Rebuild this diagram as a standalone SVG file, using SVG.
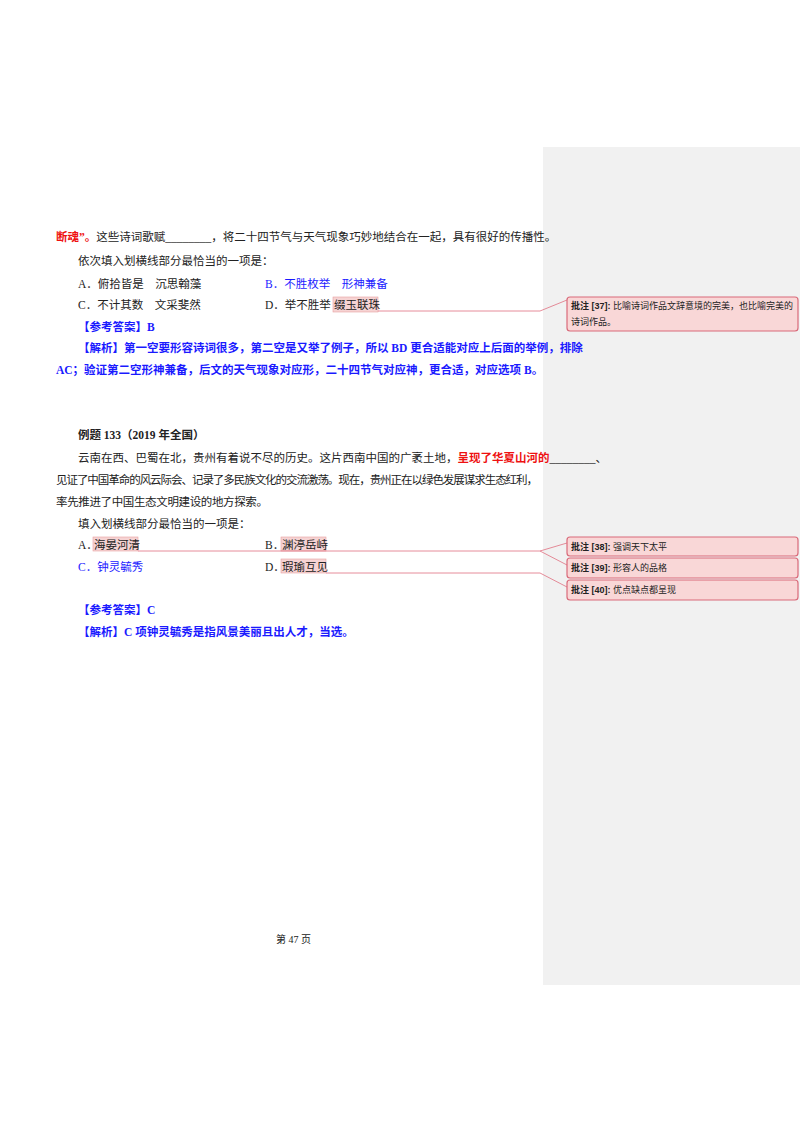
<svg xmlns="http://www.w3.org/2000/svg" width="800" height="1132" viewBox="0 0 800 1132">
<style>
text{font-family:"Liberation Serif","Noto Sans CJK SC",serif;font-size:11.5px;fill:#222}
.b{font-weight:bold}
.blue{fill:#1a1aff}
.red{fill:#ee1111}
.hl{fill:#f6d3d3;stroke:#e8a0a0;stroke-width:0.6}
.cm{fill:#f9d7d7;stroke:#d96a7a;stroke-width:1.2}
.ct{font-family:"Liberation Sans","Noto Sans CJK SC",sans-serif;font-size:9px}
.ln{fill:none;stroke:#e07080;stroke-width:0.8}
</style>
<rect width="800" height="1132" fill="#fff"/>
<rect x="543" y="147" width="257" height="838" fill="#f1f1f1"/>
<g id="highlights">
<rect class="hl" x="333" y="297" width="45" height="15"/>
<rect class="hl" x="93" y="537" width="45" height="14"/>
<rect class="hl" x="281" y="537" width="45" height="14"/>
<rect class="hl" x="281" y="559" width="45" height="14"/>
</g>
<g id="connectors">
<path class="ln" d="M378 311 H540 L567 300"/>
<path class="ln" d="M138 551 H540 L567 543 M540 551 L567 565"/>
<path class="ln" d="M326 573 H540 L567 587"/>
</g>
<g id="text">
<text x="56" y="241"><tspan class="b red">断魂”。</tspan>这些诗词歌赋________，将二十四节气与天气现象巧妙地结合在一起，具有很好的传播性。</text>
<text x="78" y="265">依次填入划横线部分最恰当的一项是：</text>
<text x="78" y="288">A．俯拾皆是　沉思翰藻</text>
<text x="265" y="288" class="blue">B．不胜枚举　形神兼备</text>
<text x="78" y="309">C．不计其数　文采斐然</text>
<text x="265" y="309">D．举不胜举</text>
<text x="334" y="309">缀玉联珠</text>
<text x="78" y="331" class="b blue">【参考答案】B</text>
<text x="78" y="352" class="b blue">【解析】第一空要形容诗词很多，第二空是又举了例子，所以 BD 更合适能对应上后面的举例，排除</text>
<text x="56" y="374" class="b blue">AC；验证第二空形神兼备，后文的天气现象对应形，二十四节气对应神，更合适，对应选项 B。</text>
<text x="78" y="439" class="b">例题 133（2019 年全国）</text>
<text x="78" y="462">云南在西、巴蜀在北，贵州有着说不尽的历史。这片西南中国的广袤土地，<tspan class="b red">呈现了华夏山河的</tspan>________、</text>
<text x="56" y="484" textLength="482" lengthAdjust="spacing">见证了中国革命的风云际会、记录了多民族文化的交流激荡。现在，贵州正在以绿色发展谋求生态红利，</text>
<text x="56" y="506" textLength="212" lengthAdjust="spacing">率先推进了中国生态文明建设的地方探索。</text>
<text x="78" y="528">填入划横线部分最恰当的一项是：</text>
<text x="78" y="549">A．</text><text x="94" y="549">海晏河清</text>
<text x="265" y="549">B．</text><text x="282" y="549">渊渟岳峙</text>
<text x="78" y="571" class="blue">C．钟灵毓秀</text>
<text x="265" y="571">D．</text><text x="282" y="571">瑕瑜互见</text>
<text x="78" y="614" class="b blue">【参考答案】C</text>
<text x="78" y="636" class="b blue">【解析】C 项钟灵毓秀是指风景美丽且出人才，当选。</text>
<text x="276" y="943" style="font-size:10px">第 47 页</text>
</g>
<g id="c37"><rect class="cm" x="567" y="297" width="231" height="34" rx="3"/>
<text class="ct" x="571" y="309"><tspan font-weight="bold">批注 [37]:</tspan> 比喻诗词作品文辞意境的完美，也比喻完美的</text>
<text class="ct" x="571" y="325">诗词作品。</text></g>
<g id="c38"><rect class="cm" x="567" y="537" width="231" height="19" rx="3"/>
<text class="ct" x="571" y="550"><tspan font-weight="bold">批注 [38]:</tspan> 强调天下太平</text></g>
<g id="c39"><rect class="cm" x="567" y="558" width="231" height="20" rx="3"/>
<text class="ct" x="571" y="571"><tspan font-weight="bold">批注 [39]:</tspan> 形容人的品格</text></g>
<g id="c40"><rect class="cm" x="567" y="580" width="231" height="20" rx="3"/>
<text class="ct" x="571" y="593"><tspan font-weight="bold">批注 [40]:</tspan> 优点缺点都呈现</text></g>
</svg>
